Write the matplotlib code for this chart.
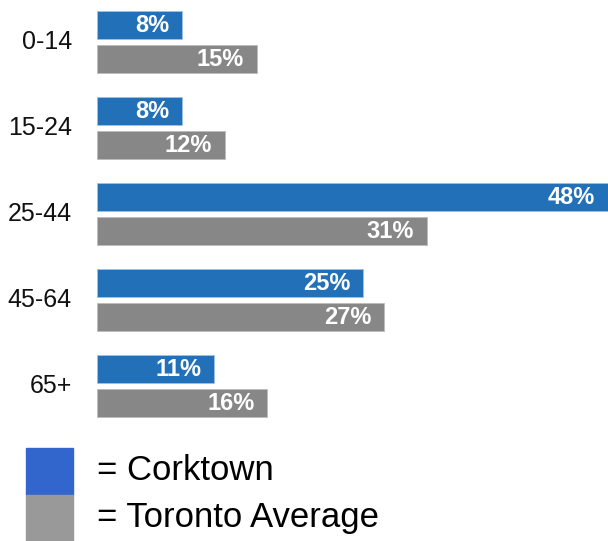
import numpy as np
import matplotlib.pyplot as plt
from matplotlib.patches import Rectangle

plt.rcParams['font.family'] = ['Liberation Sans', 'DejaVu Sans']

# data
grupos = ['0-14', '15-24', '25-44', '45-64', '65+']
corktown = [8, 8, 48, 25, 11]
toronto = [15, 12, 31, 27, 16]

azul = '#2270b8'
cinza = '#878787'

W, H = 608, 541
fig = plt.figure(figsize=(W / 100, H / 100), dpi=100)

# eixo: 1 unidade em y = 86 px (espaco entre grupos)
ax = fig.add_axes([97 / W, 0, 511 / W, 1])
ax.set_xlim(0, 48)
ax.set_ylim(H / 86, 0)
ax.axis('off')

y = np.arange(len(grupos))
alt = 28 / 86
yb = y + 25 / 86
yg = y + 59 / 86

ax.barh(yb, corktown, height=alt, color=azul, edgecolor='#9cc0e6', linewidth=0.6)
ax.barh(yg, toronto, height=alt, color=cinza, edgecolor='#bbbbbb', linewidth=0.6)

off = 13 / (511 / 48)
for i in range(len(grupos)):
    ax.text(corktown[i] - off, yb[i] + 0.01, f'{corktown[i]}%', color='white',
            fontsize=17, fontweight='bold', ha='right', va='center')
    ax.text(toronto[i] - off, yg[i] + 0.01, f'{toronto[i]}%', color='white',
            fontsize=17, fontweight='bold', ha='right', va='center')
    ax.text(-25 / (511 / 48), y[i] + 42 / 86, grupos[i], fontsize=18,
            ha='right', va='center', color='#111111')

# legenda
fig.patches.append(Rectangle((26 / W, 1 - 495 / H), 47 / W, 47 / H,
                             transform=fig.transFigure, color='#3366cc'))
fig.patches.append(Rectangle((26 / W, 0), 47 / W, 46 / H,
                             transform=fig.transFigure, color='#999999'))
fig.text(97 / W, 1 - 470 / H, '= Corktown', fontsize=25, va='center', ha='left')
fig.text(97 / W, 1 - 517 / H, '= Toronto Average', fontsize=25, va='center', ha='left')

fig.savefig('out.png', dpi=100)
